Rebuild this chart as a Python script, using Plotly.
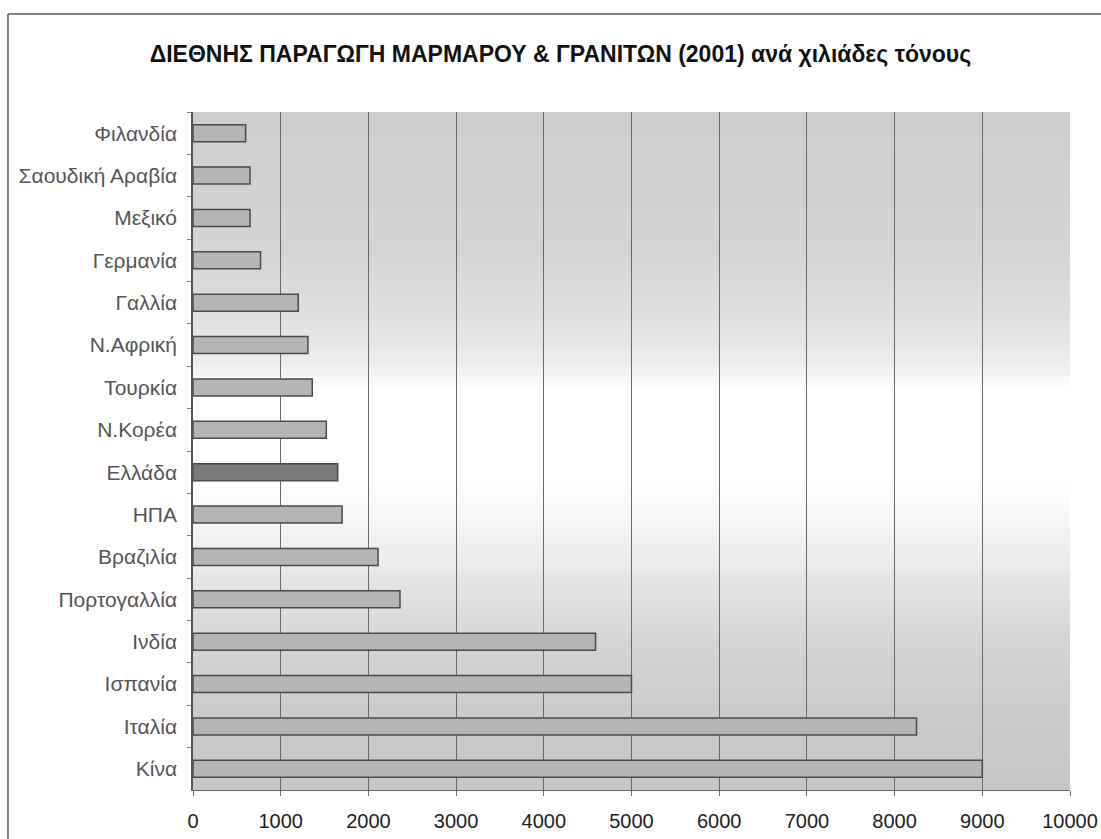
import plotly.graph_objects as go

# ---- data (top-to-bottom order as shown) ----
countries = ["Φιλανδία", "Σαουδική Αραβία", "Μεξικό", "Γερμανία", "Γαλλία",
             "Ν.Αφρική", "Τουρκία", "Ν.Κορέα", "Ελλάδα", "ΗΠΑ", "Βραζιλία",
             "Πορτογαλλία", "Ινδία", "Ισπανία", "Ιταλία", "Κίνα"]
production = [600, 650, 650, 770, 1200, 1310, 1360, 1520, 1650, 1700, 2110,
              2360, 4590, 5000, 8250, 9000]
highlight = "Ελλάδα"

title_text = "ΔΙΕΘΝΗΣ ΠΑΡΑΓΩΓΗ ΜΑΡΜΑΡΟΥ & ΓΡΑΝΙΤΩΝ (2001) ανά χιλιάδες τόνους"
x_ticks = [0, 1000, 2000, 3000, 4000, 5000, 6000, 7000, 8000, 9000, 10000]

# ---- styling ----
bar_colors = ["#7a7a7a" if c == highlight else "#b5b5b5" for c in countries]
FONT = "Liberation Sans, Arial, sans-serif"

fig = go.Figure()
fig.add_trace(go.Bar(
    x=production, y=countries, orientation="h", width=0.4,
    marker=dict(color=bar_colors, line=dict(color="#4a4a4a", width=1.5)),
    hoverinfo="x+y", showlegend=False,
))

# background vertical gradient (paper y: 0 bottom -> 1 top)
stops = [(0.00, 198), (0.10, 202), (0.22, 212), (0.29, 225), (0.34, 236),
         (0.40, 246), (0.44, 253), (0.47, 255), (0.59, 255), (0.62, 240),
         (0.66, 230), (0.72, 220), (0.80, 212), (0.90, 208), (1.00, 206)]

def gray_at(t):
    for (t0, g0), (t1, g1) in zip(stops[:-1], stops[1:]):
        if t0 <= t <= t1:
            f = (t - t0) / (t1 - t0) if t1 > t0 else 0
            return int(round(g0 + (g1 - g0) * f))
    return stops[-1][1]

shapes = []
n = 100
for i in range(n):
    y0 = i / n
    y1 = (i + 1) / n
    g = gray_at((y0 + y1) / 2)
    shapes.append(dict(type="rect", xref="paper", yref="paper", x0=0, x1=1,
                       y0=y0, y1=min(1, y1 + 0.002), fillcolor=f"rgb({g},{g},{g})",
                       line=dict(width=0), layer="below"))

# chart border (left and top visible)
shapes.append(dict(type="line", xref="paper", yref="paper",
                   x0=-0.211, x1=1.05, y0=1.1445, y1=1.1445,
                   line=dict(color="#5a5a5a", width=1.5)))
shapes.append(dict(type="line", xref="paper", yref="paper",
                   x0=-0.211, x1=-0.211, y0=1.1445, y1=-0.08,
                   line=dict(color="#5a5a5a", width=1.5)))

fig.update_layout(
    width=1101, height=839,
    margin=dict(l=193, r=31, t=112, b=49, autoexpand=False),
    paper_bgcolor="white", plot_bgcolor="#d8d8d8",
    title=dict(text=f"<b>{title_text}</b>", x=0.509, xref="container",
               xanchor="center", y=0.936, yref="container", yanchor="middle",
               font=dict(family=FONT, size=23, color="#111111")),
    shapes=shapes,
    bargap=0.6,
)
fig.update_xaxes(
    range=[0, 10000], tickvals=x_ticks, ticktext=[str(v) for v in x_ticks],
    showgrid=True, gridcolor="#6a6a6a", gridwidth=1,
    showline=True, linecolor="#6a6a6a", linewidth=1,
    ticks="outside", ticklen=5, tickcolor="#6a6a6a",
    tickfont=dict(family=FONT, size=20, color="#222222"),
    ticklabelstandoff=8, zeroline=False, fixedrange=True, automargin=False,
)
fig.update_yaxes(
    autorange="reversed", type="category",
    showgrid=False, showline=True, linecolor="#555555", linewidth=1.5,
    ticks="outside", ticklen=4, tickcolor="#888888", tickson="boundaries",
    tickfont=dict(family=FONT, size=21, color="#555555"),
    ticklabelstandoff=10, fixedrange=True, automargin=False,
)

fig.write_html("out.html")
